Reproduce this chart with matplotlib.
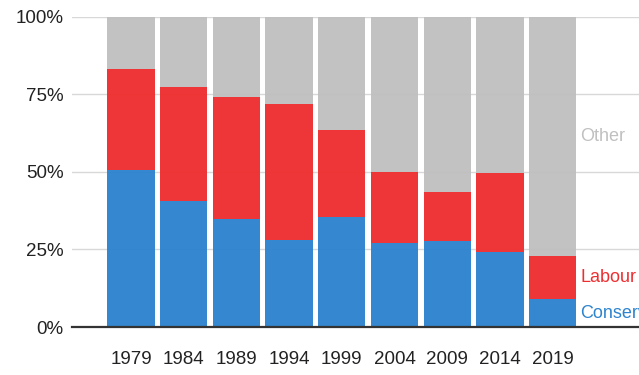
import numpy as np
import matplotlib
matplotlib.use("Agg")
import matplotlib.pyplot as plt

years = ["1979", "1984", "1989", "1994", "1999", "2004", "2009", "2014", "2019"]
conservative = [50.5, 40.6, 34.7, 28.0, 35.5, 27.0, 27.7, 24.3, 8.9]
labour_top = [83.1, 77.2, 74.2, 72.0, 63.4, 50.0, 43.6, 49.5, 23.0]
labour = [t - c for t, c in zip(labour_top, conservative)]
other = [100 - t for t in labour_top]

series_names = ["Conservative", "Labour", "Other"]
colors = ["#2E84CE", "#EE2F31", "#C0C0C0"]

plt.rcParams['font.family'] = ['Liberation Sans', 'DejaVu Sans']

fig = plt.figure(figsize=(6.39, 3.75), dpi=100)
ax = fig.add_axes([0.1122, 0.128, 0.8878, 0.8275])

x = np.arange(len(years))
width = 0.898
bottom = np.zeros(len(years))
for vals, col in zip([conservative, labour, other], colors):
    ax.bar(x, vals, width=width, bottom=bottom, color=col, zorder=2, alpha=0.97)
    bottom += np.array(vals)

# series labels next to the last bar, at segment midpoints
last = len(years) - 1
mids = [conservative[last] / 2,
        conservative[last] + labour[last] / 2,
        labour_top[last] + other[last] / 2]
for name, col, m in zip(series_names, colors, mids):
    ax.text(x[last] + width / 2 + 0.08, m, name, color=col, fontsize=13,
            va='center', ha='left', clip_on=False)

ax.set_xlim(-1.125, 9.64)
ax.set_ylim(0, 100)
ax.set_yticks([0, 25, 50, 75, 100])
ax.set_yticklabels(["0%", "25%", "50%", "75%", "100%"])
ax.set_xticks(x)
ax.set_xticklabels(years)
ax.tick_params(axis='both', length=0, labelsize=13.5, colors='#222222')
ax.tick_params(axis='x', pad=17)
ax.tick_params(axis='y', pad=6)
ax.yaxis.grid(True, color='#D8D8D8', linewidth=1, zorder=1)
for s in ['top', 'right', 'left']:
    ax.spines[s].set_visible(False)
ax.spines['bottom'].set_color('#333333')
ax.spines['bottom'].set_linewidth(1.6)
ax.spines['bottom'].set_zorder(3)

fig.savefig("out.png", dpi=100)
